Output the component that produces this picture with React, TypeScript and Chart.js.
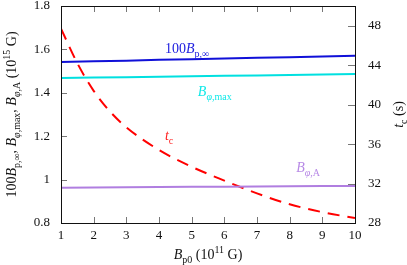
import { useEffect, useRef } from "react";
import { Chart, registerables } from "chart.js";

Chart.register(...registerables);

const xValues = [1, 2, 3, 4, 5, 6, 7, 8, 9, 10];
const bpInf100 = [1.542, 1.545, 1.548, 1.552, 1.555, 1.558, 1.561, 1.564, 1.567, 1.571];
const bPhiMax = [1.468, 1.47, 1.472, 1.474, 1.476, 1.478, 1.48, 1.482, 1.484, 1.487];
const bPhiA = [0.963, 0.964, 0.965, 0.966, 0.967, 0.967, 0.968, 0.969, 0.97, 0.971];
const tcX = [1, 1.5, 2, 2.5, 3, 4, 5, 6, 7, 8, 9, 10];
const tcValues = [47.7, 44.2, 41.4, 39.3, 37.7, 35.4, 33.7, 32.3, 31.0, 29.9, 29.1, 28.5];
const xTicks = [1, 2, 3, 4, 5, 6, 7, 8, 9, 10];
const yTicks = [0.8, 1, 1.2, 1.4, 1.6, 1.8];
const y1Ticks = [28, 32, 36, 40, 44, 48];

const FONT = '"Liberation Serif", "DejaVu Serif", serif';

type Seg = { t: string; s?: "i" | "sub" | "sup" | "isub" };

function segFont(seg: Seg, size: number) {
  const small = seg.s === "sub" || seg.s === "sup" || seg.s === "isub";
  const italic = seg.s === "i" || seg.s === "isub";
  return `${italic ? "italic " : ""}${small ? Math.round(size * 0.72) : size}px ${FONT}`;
}

function drawRich(ctx: CanvasRenderingContext2D, segs: Seg[], x: number, y: number, size: number, color: string, align: "left" | "center") {
  ctx.save();
  ctx.textBaseline = "alphabetic";
  ctx.textAlign = "left";
  let total = 0;
  const widths = segs.map((s) => {
    ctx.font = segFont(s, size);
    const w = ctx.measureText(s.t).width;
    total += w;
    return w;
  });
  let cx = align === "center" ? x - total / 2 : x;
  ctx.fillStyle = color;
  segs.forEach((s, i) => {
    ctx.font = segFont(s, size);
    let dy = 0;
    if (s.s === "sub" || s.s === "isub") dy = size * 0.28;
    if (s.s === "sup") dy = -size * 0.42;
    ctx.fillText(s.t, cx, y + dy);
    cx += widths[i];
  });
  ctx.restore();
}

const leftTitle: Seg[] = [
  { t: "100" }, { t: "B", s: "i" }, { t: "p,∞", s: "sub" }, { t: ", " },
  { t: "B", s: "i" }, { t: "φ", s: "isub" }, { t: ",max", s: "sub" }, { t: ", " },
  { t: "B", s: "i" }, { t: "φ", s: "isub" }, { t: ",A", s: "sub" }, { t: " (10" },
  { t: "15", s: "sup" }, { t: " G)" },
];
const rightTitle: Seg[] = [{ t: "t", s: "i" }, { t: "c", s: "sub" }, { t: " (s)" }];
const xTitle: Seg[] = [{ t: "B", s: "i" }, { t: "p0", s: "sub" }, { t: " (10" }, { t: "11", s: "sup" }, { t: " G)" }];

const labels: { segs: Seg[]; x: number; y: number; color: string }[] = [
  { segs: [{ t: "100" }, { t: "B", s: "i" }, { t: "p,∞", s: "sub" }], x: 4.18, y: 1.583, color: "#2020e0" },
  { segs: [{ t: "B", s: "i" }, { t: "φ", s: "isub" }, { t: ",max", s: "sub" }], x: 5.19, y: 1.385, color: "#10e8e8" },
  { segs: [{ t: "t", s: "i" }, { t: "c", s: "sub" }], x: 4.18, y: 1.183, color: "#ff2020" },
  { segs: [{ t: "B", s: "i" }, { t: "φ", s: "isub" }, { t: ",A", s: "sub" }], x: 8.2, y: 1.036, color: "#b88ae6" },
];

const decorPlugin = {
  id: "decor",
  beforeDatasetsDraw(chart: any) {
    const ctx: CanvasRenderingContext2D = chart.ctx;
    const { left, right, top, bottom } = chart.chartArea;
    const sx = chart.scales.x, sy = chart.scales.y, sy1 = chart.scales.y1;
    ctx.save();
    ctx.strokeStyle = "#777";
    ctx.lineWidth = 1;
    ctx.beginPath();
    xTicks.forEach((v) => {
      const px = Math.round(sx.getPixelForValue(v)) + 0.5;
      ctx.moveTo(px, bottom); ctx.lineTo(px, bottom - 6);
      ctx.moveTo(px, top); ctx.lineTo(px, top + 6);
    });
    yTicks.forEach((v) => {
      const py = Math.round(sy.getPixelForValue(v)) + 0.5;
      ctx.moveTo(left, py); ctx.lineTo(left + 6, py);
    });
    y1Ticks.forEach((v) => {
      const py = Math.round(sy1.getPixelForValue(v)) + 0.5;
      ctx.moveTo(right, py); ctx.lineTo(right - 7, py);
    });
    ctx.stroke();
    ctx.restore();
  },
  afterDraw(chart: any) {
    const ctx: CanvasRenderingContext2D = chart.ctx;
    const { left, right, top, bottom } = chart.chartArea;
    const sx = chart.scales.x, sy = chart.scales.y;
    ctx.save();
    ctx.strokeStyle = "#111";
    ctx.lineWidth = 1;
    ctx.strokeRect(Math.round(left) + 0.5, Math.round(top) + 0.5, Math.round(right - left), Math.round(bottom - top));
    ctx.restore();

    labels.forEach((l) => {
      drawRich(ctx, l.segs, sx.getPixelForValue(l.x), sy.getPixelForValue(l.y), 14, l.color, "left");
    });

    const cy = (top + bottom) / 2;
    ctx.save();
    ctx.translate(16, cy);
    ctx.rotate(-Math.PI / 2);
    drawRich(ctx, leftTitle, 0, 0, 14, "#111", "center");
    ctx.restore();

    ctx.save();
    ctx.translate(403, cy);
    ctx.rotate(-Math.PI / 2);
    drawRich(ctx, rightTitle, 0, 0, 14, "#111", "center");
    ctx.restore();

    drawRich(ctx, xTitle, (left + right) / 2, 259, 14, "#111", "center");
  },
};

const zeroPad = (s: any) => {
  s.paddingTop = 0; s.paddingBottom = 0; s.paddingLeft = 0; s.paddingRight = 0;
};

export default function App() {
  const ref = useRef<HTMLCanvasElement>(null);
  useEffect(() => {
    document.body.style.margin = "0";
    const canvas = ref.current!;
    const tickFont = { family: FONT, size: 13 };
    const chart = new Chart(canvas, {
      type: "line",
      data: {
        datasets: [
          { data: xValues.map((x, i) => ({ x, y: bpInf100[i] })), borderColor: "#1010d8", borderWidth: 2, pointRadius: 0, yAxisID: "y" },
          { data: xValues.map((x, i) => ({ x, y: bPhiMax[i] })), borderColor: "#00e0e0", borderWidth: 2, pointRadius: 0, yAxisID: "y" },
          { data: xValues.map((x, i) => ({ x, y: bPhiA[i] })), borderColor: "#b07ee0", borderWidth: 2, pointRadius: 0, yAxisID: "y" },
          { data: tcX.map((x, i) => ({ x, y: tcValues[i] })), borderColor: "#ff0000", borderWidth: 2, borderDash: [12, 8], pointRadius: 0, cubicInterpolationMode: "monotone", yAxisID: "y1" },
        ],
      },
      options: {
        animation: false,
        responsive: false,
        events: [],
        layout: { padding: { top: 6, left: 0, right: 0, bottom: 0 } },
        plugins: { legend: { display: false }, tooltip: { enabled: false } },
        scales: {
          x: {
            type: "linear", min: 1, max: 10,
            afterBuildTicks: (s: any) => { s.ticks = xTicks.map((v) => ({ value: v })); },
            ticks: { font: tickFont, color: "#111", padding: 5, maxRotation: 0 },
            grid: { display: false, drawTicks: false },
            border: { display: false },
            afterFit: (s: any) => { s.height = 42; zeroPad(s); },
          },
          y: {
            type: "linear", position: "left", min: 0.8, max: 1.8,
            afterBuildTicks: (s: any) => { s.ticks = yTicks.map((v) => ({ value: v })); },
            ticks: { font: tickFont, color: "#111", padding: 11, callback: (v: any) => String(+Number(v).toFixed(1)) },
            grid: { display: false, drawTicks: false },
            border: { display: false },
            afterFit: (s: any) => { s.width = 61; zeroPad(s); },
          },
          y1: {
            type: "linear", position: "right", min: 28, max: 50,
            afterBuildTicks: (s: any) => { s.ticks = y1Ticks.map((v) => ({ value: v })); },
            ticks: { font: tickFont, color: "#111", padding: 13 },
            grid: { display: false, drawTicks: false },
            border: { display: false },
            afterFit: (s: any) => { s.width = 52; zeroPad(s); },
          },
        },
      } as any,
      plugins: [decorPlugin],
    });
    return () => chart.destroy();
  }, []);
  return <canvas ref={ref} width={407} height={265} style={{ display: "block" }} />;
}
